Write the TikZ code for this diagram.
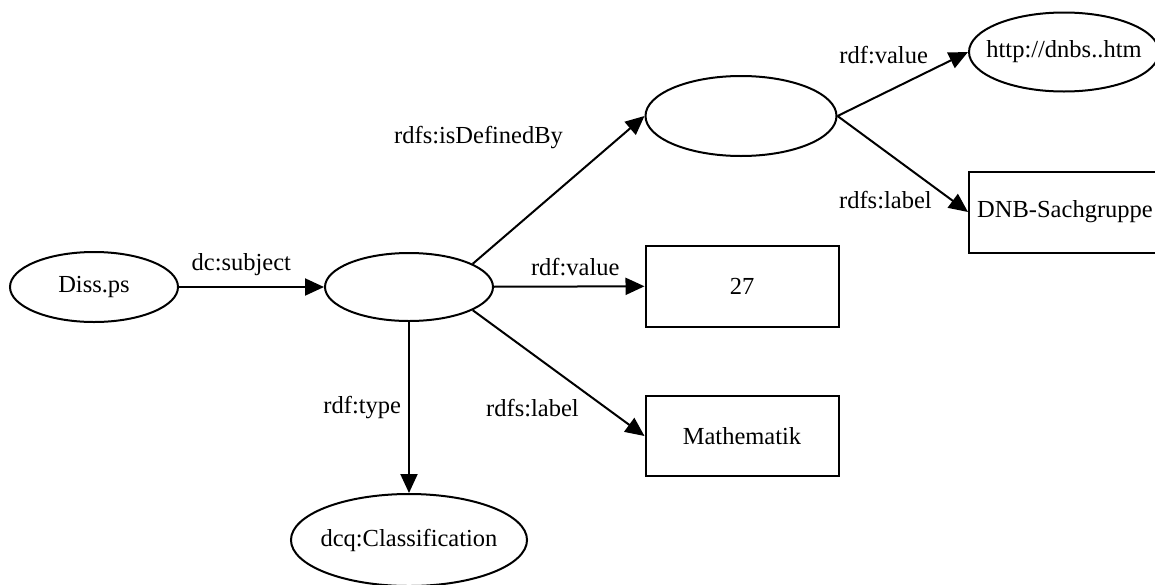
\documentclass[tikz,border=0pt]{standalone}
\usepackage{fontspec}
\setmainfont{Liberation Serif}
\usetikzlibrary{shapes.geometric,arrows.meta}

\tikzset{
  res/.style={ellipse,draw,line width=2pt,inner sep=0pt},
  lit/.style={rectangle,draw,line width=2pt,inner sep=0pt,minimum width=193pt,minimum height=81pt},
  lbl/.style={inner sep=0pt}
}

\begin{document}
\begin{tikzpicture}[x=1pt,y=-1pt,font=\fontsize{24.5}{29}\selectfont]
    \useasboundingbox (0,0) rectangle (1155,584);
    \node[res,minimum width=168pt,minimum height=70pt] (diss) at (94,287) {Diss.ps};
    \node[res,minimum width=168pt,minimum height=68pt] (bnA) at (409,287) {};
    \node[res,minimum width=191pt,minimum height=80pt] (bnB) at (741,116) {};
    \node[res,inner xsep=-11pt,minimum width=190pt,minimum height=79pt] (http) at (1064,52) {http://dnbs..htm};
    \node[lit,minimum width=192pt] (dnb) at (1065,212) {DNB-Sachgruppe};
    \node[lit] (val) at (742,286) {27};
    \node[lit,minimum height=80pt] (math) at (742,436) {Mathematik};
    \node[res,inner xsep=-5pt,minimum width=236pt,minimum height=92pt] (dcq) at (409,540) {dcq:Classification};
    \path[-{Triangle[length=19pt,width=17pt]},line width=2pt]
    (diss) edge node[lbl,pos=0.43,above=10pt] {dc:subject} (bnA)
    (bnA) edge node[lbl,pos=0.54,above=10pt] {rdf:value} (val)
    (bnA.20) edge node[lbl,pos=0.857,left=56pt] {rdfs:isDefinedBy} (bnB.west)
    (bnA) edge node[lbl,pos=0.5,left=7pt] {rdf:type} (dcq)
    (bnA.-20) edge node[lbl,pos=0.78,left=27pt] {rdfs:label} (math.west)
    (bnB.east) edge node[lbl,pos=0.953,left=33pt] {rdf:value} (http.west)
    (bnB.east) edge node[lbl,pos=0.875,left=19pt] {rdfs:label} (dnb.west);
\end{tikzpicture}
\end{document}
